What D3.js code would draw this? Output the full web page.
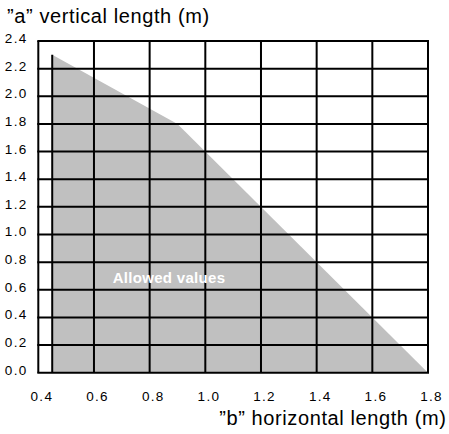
<!DOCTYPE html>
<html><head><meta charset="utf-8">
<script src="https://cdn.jsdelivr.net/npm/d3@7"></script>
<style>body{margin:0;background:#fff}svg{display:block;font-family:"Liberation Sans",Arial,Helvetica,sans-serif}</style>
</head><body>
<svg id="c" width="449" height="434"></svg>
<script>
const xTicks = [0.4, 0.6, 0.8, 1.0, 1.2, 1.4, 1.6, 1.8];
const yTicks = [0.0, 0.2, 0.4, 0.6, 0.8, 1.0, 1.2, 1.4, 1.6, 1.8, 2.0, 2.2, 2.4];
const boundaryB = [0.45, 0.45, 0.9, 1.8];
const boundaryA = [0.0, 2.3, 1.8, 0.0];
const regionLabel = "Allowed values";
const yTitle = "\u201Da\u201D vertical length (m)";
const xTitle = "\u201Db\u201D horizontal length (m)";

const svg = d3.select("#c");
const x = d3.scaleLinear().domain([0.4, 1.8]).range([38.3, 428]);
const y = d3.scaleLinear().domain([0, 2.4]).range([372.7, 41]);

const pts = boundaryB.map((b, i) => [x(b), y(boundaryA[i])]);
svg.append("path").attr("d", d3.line()(pts) + "Z").attr("fill", "#c0c0c0");

// grid
svg.append("g").selectAll("line").data(yTicks).join("line")
  .attr("x1", x(0.4) - 1).attr("x2", x(1.8) + 1).attr("y1", d => y(d)).attr("y2", d => y(d))
  .attr("stroke", "#000").attr("stroke-width", 2);
svg.append("g").selectAll("line").data(xTicks).join("line")
  .attr("x1", d => x(d)).attr("x2", d => x(d)).attr("y1", y(0)).attr("y2", y(2.4))
  .attr("stroke", "#000").attr("stroke-width", 2);
// left edge of region
svg.append("line").attr("x1", x(boundaryB[0])).attr("x2", x(boundaryB[1]))
  .attr("y1", y(boundaryA[0])).attr("y2", y(boundaryA[1]))
  .attr("stroke", "#000").attr("stroke-width", 2);

// tick labels
svg.append("g").selectAll("text").data(yTicks).join("text")
  .attr("x", 27.5).attr("y", d => y(d) + 2).attr("text-anchor", "end")
  .attr("font-size", 13.5).attr("letter-spacing", 1.3).text(d => d.toFixed(1));
svg.append("g").selectAll("text").data(xTicks).join("text")
  .attr("x", d => x(d) + 3.6).attr("y", 401).attr("text-anchor", "middle")
  .attr("font-size", 13.5).attr("letter-spacing", 1.3).text(d => d.toFixed(1));

svg.append("text").attr("x", 7).attr("y", 23).attr("font-size", 20).attr("letter-spacing", 0.6).text(yTitle);
svg.append("text").attr("x", 446.5).attr("y", 425).attr("text-anchor", "end").attr("font-size", 20).attr("letter-spacing", 0.6).text(xTitle);

svg.append("text").attr("x", 169).attr("y", 283).attr("text-anchor", "middle")
  .attr("font-size", 15).attr("font-weight", "bold").attr("letter-spacing", 0.3).attr("fill", "#fff").text(regionLabel);
</script>
</body></html>
